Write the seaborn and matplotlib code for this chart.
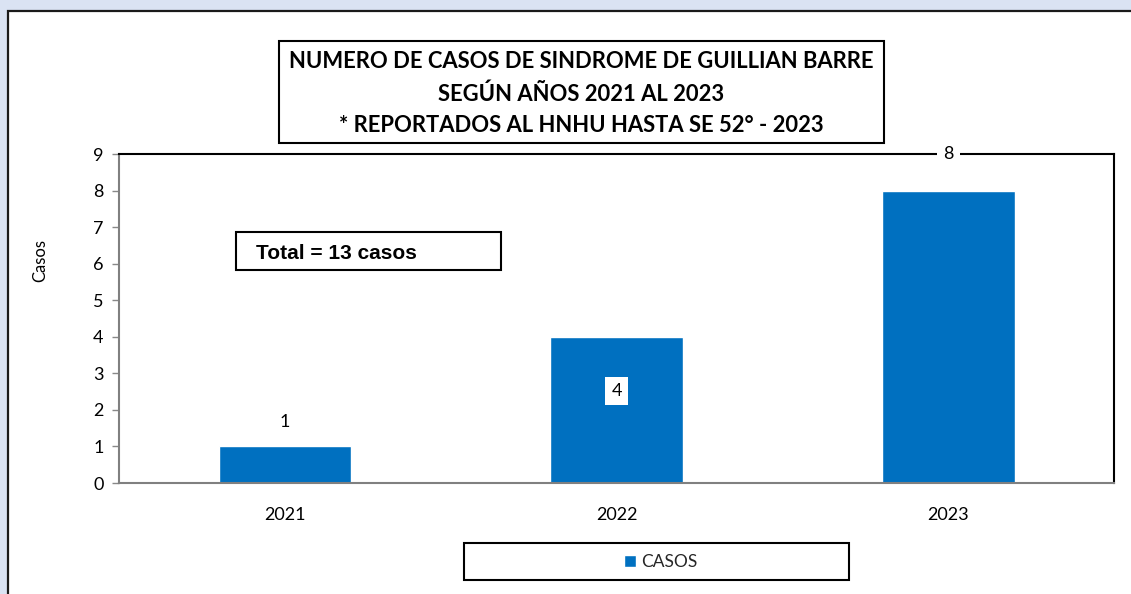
import matplotlib
matplotlib.use("Agg")
import matplotlib.pyplot as plt
import seaborn as sns
import pandas as pd
from matplotlib.patches import Rectangle

years = ["2021", "2022", "2023"]
casos = [1, 4, 8]
yticks = list(range(0, 10))
title_lines = [
    "NUMERO DE CASOS DE SINDROME DE GUILLIAN BARRE",
    "SEGÚN AÑOS 2021 AL 2023",
    "* REPORTADOS AL HNHU HASTA SE 52° - 2023",
]
total_text = "Total = 13 casos"

bar_color = "#0070C0"
W, H = 1131, 594

sns.set_theme(style="white")
plt.rcParams["font.family"] = ["Lato", "DejaVu Sans"]

df = pd.DataFrame({"anio": years, "casos": casos})

fig = plt.figure(figsize=(W / 100, H / 100), dpi=100, facecolor="#dae3f3")


def fx(px):
    return px / W


def fy(py):
    return 1 - py / H


# white chart panel
fig.patches.append(Rectangle((fx(8), fy(600)), fx(1140 - 8), fy(11) - fy(600),
                             transform=fig.transFigure, facecolor="white",
                             edgecolor="#1a1a1a", linewidth=1.6, zorder=-1))

ax = fig.add_axes([fx(119), fy(483), fx(1114 - 119), fy(154) - fy(483)])
ax.set_zorder(1)
sns.barplot(data=df, x="anio", y="casos", color=bar_color, width=0.4,
            saturation=1, ax=ax, zorder=2)
ax.set_ylim(0, 9)
ax.set_xlim(-0.5, 2.5)
ax.set_yticks(yticks)
ax.set_facecolor("white")
ax.set_xlabel("")
ax.set_ylabel("")
ax.tick_params(axis="y", left=True, length=5, width=1, color="#888888",
               labelsize=13, pad=6, labelcolor="black")
ax.tick_params(axis="x", bottom=False, labelsize=13, pad=11, labelcolor="black")
for s in ["left", "bottom"]:
    ax.spines[s].set_color("#808080")
    ax.spines[s].set_linewidth(1.5)
for s in ["top", "right"]:
    ax.spines[s].set_color("black")
    ax.spines[s].set_linewidth(1.5)
    ax.spines[s].set_visible(True)

fig.text(fx(40), fy(260), "Casos", rotation=90, ha="center", va="center",
         fontsize=12, color="black")

# data labels
label_y = [1.67, 2.52, 9.0]
boxed = [False, True, True]
for i, (v, yy, b) in enumerate(zip(casos, label_y, boxed)):
    kw = dict(boxstyle="square,pad=0.35", facecolor="white", edgecolor="none") if b else None
    ax.text(i, yy, str(v), ha="center", va="center", fontsize=13,
            color="black", bbox=kw, zorder=5, clip_on=False)

# title box
fig.patches.append(Rectangle((fx(279), fy(143)), fx(884 - 279), fy(41) - fy(143),
                             transform=fig.transFigure, facecolor="white",
                             edgecolor="black", linewidth=1.5, zorder=3))
for yy, line in zip([62, 94, 126], title_lines):
    fig.text(fx(581), fy(yy), line, ha="center", va="center", fontsize=15.8,
             fontweight="bold", color="black", zorder=4)

# total box
fig.patches.append(Rectangle((fx(236), fy(270)), fx(501 - 236), fy(232) - fy(270),
                             transform=fig.transFigure, facecolor="white",
                             edgecolor="black", linewidth=1.5, zorder=3))
fig.text(fx(256), fy(254), total_text, ha="left", va="center", fontsize=15,
         fontweight="bold", family="Liberation Sans", color="black", zorder=4)

# legend
fig.patches.append(Rectangle((fx(464), fy(580)), fx(849 - 464), fy(543) - fy(580),
                             transform=fig.transFigure, facecolor="white",
                             edgecolor="black", linewidth=1.5, zorder=3))
handle = Rectangle((0, 0), 1, 1, facecolor=bar_color)
leg = fig.legend([handle], ["CASOS"], loc="center", bbox_to_anchor=(fx(661), fy(562)),
                 frameon=False, fontsize=12.5, handlelength=0.7, handleheight=0.7,
                 handletextpad=0.3)
leg.set_zorder(5)

fig.savefig("out.png", dpi=100, facecolor=fig.get_facecolor())
